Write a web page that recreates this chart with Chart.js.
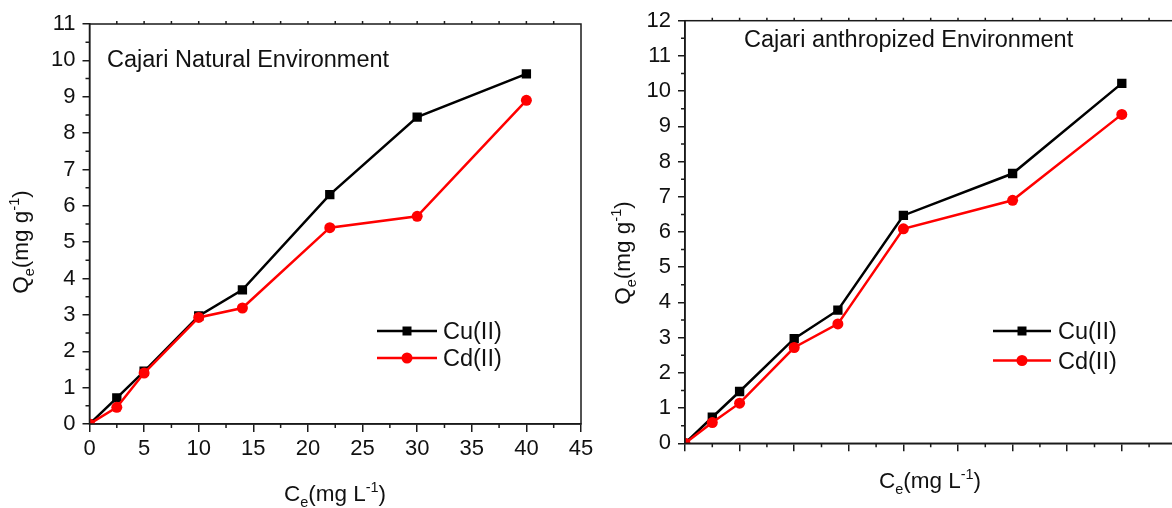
<!DOCTYPE html>
<html>
<head>
<meta charset="utf-8">
<script src="https://cdn.jsdelivr.net/npm/chart.js@4.4.1/dist/chart.umd.min.js"></script>
<style>
  html, body { margin: 0; padding: 0; background: #fff; overflow: hidden; }
  #wrap { position: relative; width: 1172px; height: 508px; overflow: hidden; }
  canvas { position: absolute; top: 0; }
  #natural { left: 0; }
  #anthro { left: 590px; }
</style>
</head>
<body>
<div id="wrap">
  <canvas id="natural" width="600" height="508"></canvas>
  <canvas id="anthro" width="600" height="508"></canvas>
</div>
<script>
// Cajari Natural Environment
const ceNatural = [0, 2.5, 5, 10, 14, 22, 30, 40];
const cuNatural = [0, 0.72, 1.45, 2.97, 3.69, 6.31, 8.44, 9.63];
const cdNatural = [0, 0.46, 1.40, 2.93, 3.19, 5.40, 5.71, 8.90];

// Cajari anthropized Environment
const ceAnthro = [0, 2.5, 5, 10, 14, 20, 30, 40];
const cuAnthro = [0, 0.74, 1.47, 2.97, 3.78, 6.47, 7.66, 10.22];
const cdAnthro = [0, 0.59, 1.14, 2.72, 3.39, 6.09, 6.90, 9.34];

const seriesNames = ["Cu(II)", "Cd(II)"];
const titleNatural = "Cajari Natural Environment";
const titleAnthro = "Cajari anthropized Environment";

const FONT = '"Liberation Sans", Arial, sans-serif';
const INK = "#111";
const AXIS = "#1a1a1a";

function richText(ctx, parts, x, y, angle) {
  // parts: [texto, tipo] -> 0 normal, 1 subscrito, 2 sobrescrito
  ctx.save();
  ctx.translate(x, y);
  ctx.rotate(angle);
  ctx.fillStyle = INK;
  ctx.textAlign = "left";
  ctx.textBaseline = "alphabetic";
  let total = 0;
  parts.forEach(p => {
    ctx.font = (p[1] ? "14.5px " : "22.5px ") + FONT;
    total += ctx.measureText(p[0]).width;
  });
  let cx = -total / 2;
  parts.forEach(p => {
    ctx.font = (p[1] ? "14.5px " : "22.5px ") + FONT;
    const dy = p[1] === 1 ? 6 : p[1] === 2 ? -9 : 0;
    ctx.fillText(p[0], cx, dy);
    cx += ctx.measureText(p[0]).width;
  });
  ctx.restore();
}

const extras = {
  id: "extras",
  afterDraw(chart, args, o) {
    const { ctx, chartArea: a } = chart;
    const x = chart.scales.x, y = chart.scales.y;
    ctx.save();

    // moldura + ticks menores
    ctx.strokeStyle = AXIS;
    ctx.lineWidth = 1.5;
    ctx.strokeRect(a.left, a.top, a.right - a.left, a.bottom - a.top);
    ctx.beginPath();
    for (let v = 0.5; v < y.max; v += 1) {
      const py = y.getPixelForValue(v);
      ctx.moveTo(a.left - 4, py);
      ctx.lineTo(a.left, py);
    }
    for (let v = 2.5; v < x.max; v += 5) {
      const px = x.getPixelForValue(v);
      ctx.moveTo(px, a.bottom);
      ctx.lineTo(px, a.bottom + 4);
    }
    for (let v = 2.5; v < x.max; v += 2.5) {
      const px = x.getPixelForValue(v);
      ctx.moveTo(px, a.top);
      ctx.lineTo(px, a.top - 3);
    }
    ctx.stroke();

    // texto dentro do grafico
    ctx.fillStyle = INK;
    ctx.font = "23.5px " + FONT;
    ctx.textAlign = "left";
    ctx.textBaseline = "alphabetic";
    ctx.fillText(o.title, o.titleX, o.titleY);

    // legenda (linha + marcador)
    const lg = o.legend;
    chart.data.datasets.forEach((ds, i) => {
      const ly = lg.ys[i];
      ctx.strokeStyle = ds.borderColor;
      ctx.fillStyle = ds.borderColor;
      ctx.lineWidth = 2.5;
      ctx.beginPath();
      ctx.moveTo(lg.x1, ly);
      ctx.lineTo(lg.x2, ly);
      ctx.stroke();
      const mx = (lg.x1 + lg.x2) / 2;
      ctx.beginPath();
      if (ds.pointStyle === "rect") ctx.rect(mx - 4.5, ly - 4.5, 9, 9);
      else ctx.arc(mx, ly, 5.5, 0, Math.PI * 2);
      ctx.fill();
      ctx.fillStyle = INK;
      ctx.font = "23.5px " + FONT;
      ctx.fillText(ds.label, lg.tx, ly + 8);
    });

    // titulos dos eixos
    richText(ctx, [["C", 0], ["e", 1], ["(mg L", 0], ["-1", 2], [")", 0]], o.xTitle[0], o.xTitle[1], 0);
    richText(ctx, [["Q", 0], ["e", 1], ["(mg g", 0], ["-1", 2], [")", 0]], o.yTitle[0], o.yTitle[1], -Math.PI / 2);
    ctx.restore();
  }
};

function makeChart(id, ce, cu, cd, cfg) {
  const ctx = document.getElementById(id).getContext("2d");
  return new Chart(ctx, {
    type: "line",
    data: {
      datasets: [
        {
          label: seriesNames[0],
          data: ce.map((c, i) => ({ x: c, y: cu[i] })),
          borderColor: "#000",
          backgroundColor: "#000",
          borderWidth: 2.5,
          pointStyle: "rect",
          pointRadius: 6.6,
          pointBorderWidth: 0,
          order: 2
        },
        {
          label: seriesNames[1],
          data: ce.map((c, i) => ({ x: c, y: cd[i] })),
          borderColor: "#ff0000",
          backgroundColor: "#ff0000",
          borderWidth: 2.5,
          pointStyle: "circle",
          pointRadius: 5.5,
          pointBorderWidth: 0,
          order: 1
        }
      ]
    },
    options: {
      responsive: false,
      animation: false,
      events: [],
      layout: { padding: { left: 0, top: cfg.top, right: cfg.right, bottom: 0 } },
      plugins: {
        legend: { display: false },
        tooltip: { enabled: false },
        extras: cfg.extras
      },
      scales: {
        x: {
          type: "linear",
          min: 0,
          max: 45,
          ticks: {
            display: cfg.xLabels,
            stepSize: 5,
            autoSkip: false,
            maxRotation: 0,
            padding: 4,
            color: INK,
            font: { family: FONT, size: 22 }
          },
          grid: { drawOnChartArea: false, tickLength: 8, color: AXIS, lineWidth: 1.5 },
          border: { color: AXIS, width: 1.5 },
          afterFit: s => { s.height = cfg.xHeight; }
        },
        y: {
          min: 0,
          max: cfg.yMax,
          ticks: {
            stepSize: 1,
            autoSkip: false,
            padding: 7,
            color: INK,
            font: { family: FONT, size: 22 }
          },
          grid: { drawOnChartArea: false, tickLength: 7, color: AXIS, lineWidth: 1.5 },
          border: { color: AXIS, width: 1.5 },
          afterFit: s => { s.width = cfg.yWidth; }
        }
      }
    },
    plugins: [extras]
  });
}

makeChart("natural", ceNatural, cuNatural, cdNatural, {
  top: 24, right: 19, yWidth: 89.5, xHeight: 84, yMax: 11, xLabels: true,
  extras: {
    title: titleNatural, titleX: 107, titleY: 67,
    legend: { x1: 377, x2: 437, tx: 443, ys: [331, 358] },
    xTitle: [335, 501], yTitle: [28, 242]
  }
});

makeChart("anthro", ceAnthro, cuAnthro, cdAnthro, {
  top: 20.7, right: 13.6, yWidth: 95, xHeight: 64.7, yMax: 12, xLabels: false,
  extras: {
    title: titleAnthro, titleX: 154, titleY: 46.5,
    legend: { x1: 403, x2: 461, tx: 468, ys: [331, 360.5] },
    xTitle: [340, 488], yTitle: [40, 253]
  }
});
</script>
</body>
</html>
